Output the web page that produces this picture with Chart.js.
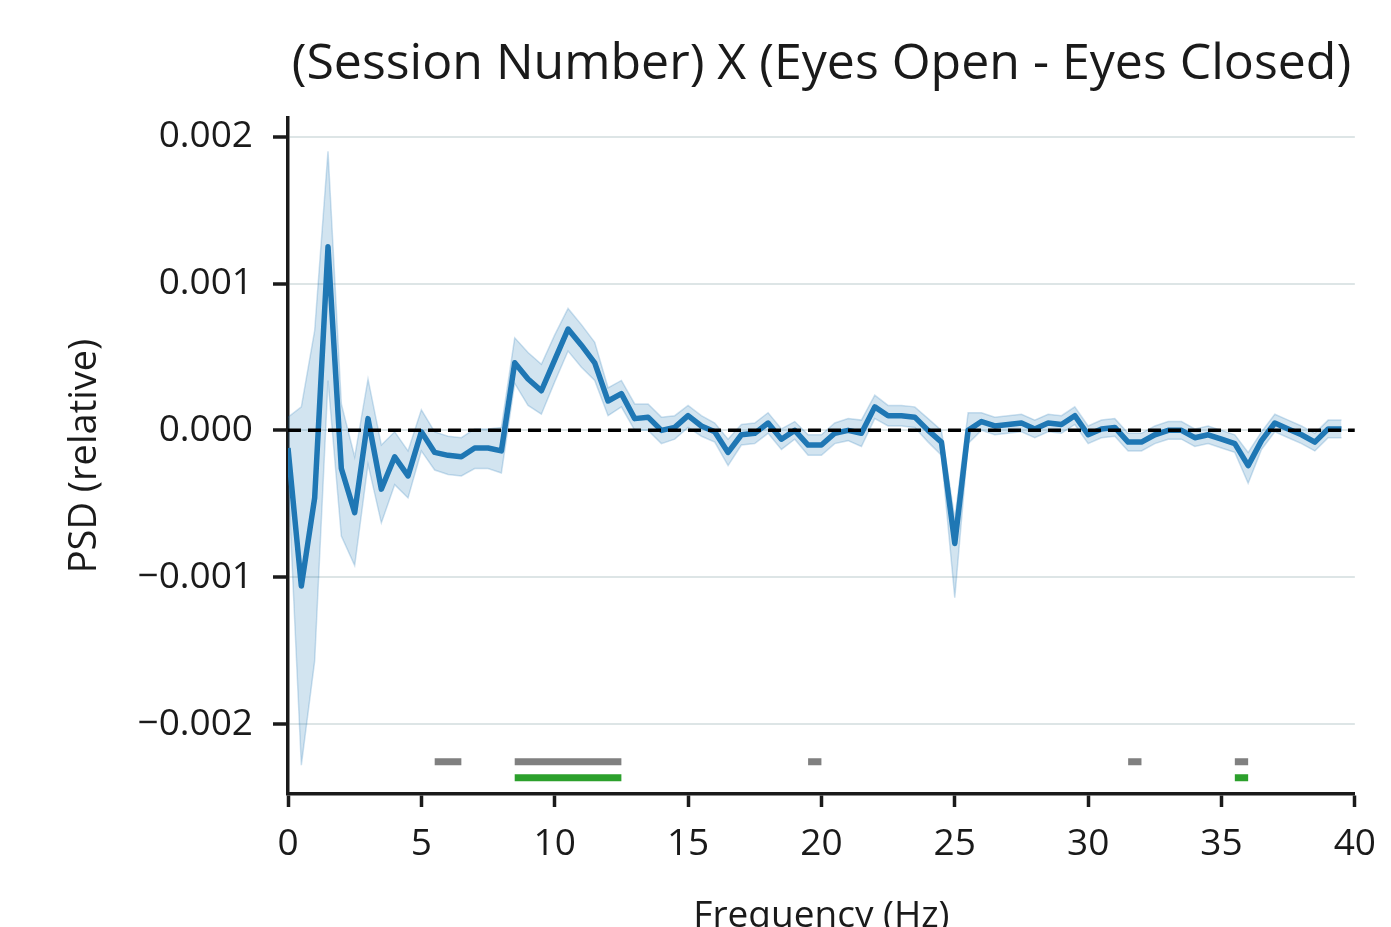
<!DOCTYPE html>
<html>
<head>
<meta charset="utf-8">
<script src="https://cdn.jsdelivr.net/npm/chart.js@4.4.1/dist/chart.umd.min.js"></script>
<style>
  html, body { margin: 0; padding: 0; background: #ffffff; }
  #wrap { width: 1391px; height: 927px; position: relative; }
</style>
</head>
<body>
<div id="wrap"><canvas id="c" width="1391" height="927"></canvas></div>
<script>
// ---- data ----
const freqs = [0,0.5,1,1.5,2,2.5,3,3.5,4,4.5,5,5.5,6,6.5,7,7.5,8,8.5,9,9.5,10,10.5,11,11.5,12,12.5,13,13.5,14,14.5,15,15.5,16,16.5,17,17.5,18,18.5,19,19.5,20,20.5,21,21.5,22,22.5,23,23.5,24,24.5,25,25.5,26,26.5,27,27.5,28,28.5,29,29.5,30,30.5,31,31.5,32,32.5,33,33.5,34,34.5,35,35.5,36,36.5,37,37.5,38,38.5,39,39.5];
const meanPSD = [-0.00012,-0.00106,-0.00046,0.00125,-0.00026,-0.00056,0.00008,-0.00040,-0.00018,-0.00031,
  -0.00001,-0.00015,-0.00017,-0.00018,-0.00012,-0.00012,-0.00014,0.00046,0.00035,0.00027,
  0.00048,0.00069,0.00058,0.00046,0.00020,0.00025,0.00008,0.00009,0.00000,0.00002,
  0.00010,0.00003,-0.00001,-0.00015,-0.00003,-0.00002,0.00005,-0.00006,0.00000,-0.00010,
  -0.00010,-0.00002,0.00000,-0.00002,0.00016,0.00010,0.00010,0.00009,0.00000,-0.00008,
  -0.00077,0.00000,0.00006,0.00003,0.00004,0.00005,0.00001,0.00005,0.00004,0.00010,
  -0.00003,0.00001,0.00002,-0.00008,-0.00008,-0.00003,0.00000,0.00000,-0.00005,-0.00003,
  -0.00006,-0.00009,-0.00024,-0.00007,0.00005,0.00001,-0.00003,-0.00008,0.00001,0.00001];
const upperCI = [0.00009,0.00016,0.00068,0.00190,0.00018,-0.00018,0.00035,-0.00010,-0.00001,-0.00014,
  0.00014,-0.00001,-0.00004,-0.00005,0.00001,0.00001,0.00002,0.00063,0.00053,0.00045,
  0.00065,0.00083,0.00072,0.00060,0.00029,0.00034,0.00018,0.00018,0.00009,0.00010,
  0.00017,0.00010,0.00005,-0.00006,0.00004,0.00005,0.00012,0.00001,0.00006,-0.00003,
  -0.00003,0.00005,0.00008,0.00007,0.00024,0.00017,0.00017,0.00016,0.00008,0.00000,
  -0.00060,0.00012,0.00012,0.00009,0.00010,0.00011,0.00007,0.00011,0.00010,0.00016,
  0.00003,0.00007,0.00008,-0.00002,-0.00002,0.00003,0.00006,0.00006,0.00001,0.00003,
  0.00000,-0.00003,-0.00015,-0.00001,0.00011,0.00007,0.00003,-0.00002,0.00007,0.00007];
const lowerCI = [-0.00030,-0.00228,-0.00157,0.00034,-0.00072,-0.00092,-0.00023,-0.00063,-0.00037,-0.00046,
  -0.00014,-0.00027,-0.00030,-0.00031,-0.00026,-0.00026,-0.00029,0.00032,0.00017,0.00011,
  0.00033,0.00054,0.00043,0.00034,0.00010,0.00016,0.00000,0.00000,-0.00009,-0.00006,
  0.00002,-0.00004,-0.00008,-0.00024,-0.00010,-0.00009,-0.00002,-0.00013,-0.00006,-0.00017,
  -0.00017,-0.00009,-0.00007,-0.00011,0.00008,0.00003,0.00003,0.00002,-0.00008,-0.00017,
  -0.00114,-0.00009,0.00000,-0.00003,-0.00002,-0.00001,-0.00005,-0.00001,-0.00002,0.00004,
  -0.00009,-0.00005,-0.00004,-0.00014,-0.00014,-0.00009,-0.00006,-0.00006,-0.00011,-0.00009,
  -0.00012,-0.00015,-0.00036,-0.00013,-0.00001,-0.00005,-0.00009,-0.00014,-0.00005,-0.00005];
const graySig = [[5.5,6.5],[8.5,12.5],[19.5,20.0],[31.5,32.0],[35.5,36.0]];
const greenSig = [[8.5,12.5],[35.5,36.0]];
const graySigLevel = -0.002256;
const greenSigLevel = -0.002365;
const zeroLine = [[0,0],[40,0]];
const xTicks = [0,5,10,15,20,25,30,35,40];
const yTicks = [-0.002,-0.001,0,0.001,0.002];
const xRange = [0, 40];
const yRange = [-0.002476, 0.002127];
const titleText = '(Session Number) X (Eyes Open - Eyes Closed)';
const xTitle = 'Frequency (Hz)';
const yTitle = 'PSD (relative)';

// ---- helpers ----
function pts(xs, ys) { return xs.map((x, i) => ({x: x, y: ys[i]})); }
function segs(list, level) {
  const out = [];
  list.forEach(s => { out.push({x: s[0], y: level}, {x: s[1], y: level}, {x: s[1], y: null}); });
  return out;
}
function fmtY(v) {
  if (Math.abs(v) < 1e-12) return '0.000';
  const s = Math.abs(v).toFixed(3);
  return (v < 0 ? '\u2212' : '') + s;
}

const FONT = "'Open Sans', 'DejaVu Sans', sans-serif";
Chart.defaults.font.family = FONT;
Chart.defaults.color = '#1a1a1a';

const blue = '#1f77b4';

new Chart(document.getElementById('c'), {
  type: 'line',
  data: {
    datasets: [
      { label: 'zero', data: zeroLine.map(p => ({x: p[0], y: p[1]})), borderColor: '#000', borderWidth: 3.5,
        borderDash: [13, 7], pointRadius: 0, fill: false, order: 0 },
      { label: 'mean', data: pts(freqs, meanPSD), borderColor: blue, borderWidth: 5.5,
        pointRadius: 0, fill: false, tension: 0, order: 1, borderJoinStyle: 'round' },
      { label: 'lower', data: pts(freqs, lowerCI), borderColor: 'rgba(31,119,180,0.22)', borderWidth: 1.5,
        pointRadius: 0, fill: false, tension: 0, order: 2 },
      { label: 'upper', data: pts(freqs, upperCI), borderColor: 'rgba(31,119,180,0.22)', borderWidth: 1.5,
        backgroundColor: 'rgba(31,119,180,0.2)', pointRadius: 0, fill: 2, tension: 0, order: 2 },
      { label: 'gray', data: segs(graySig, graySigLevel), borderColor: '#808080', borderWidth: 7,
        borderCapStyle: 'butt', pointRadius: 0, spanGaps: false, fill: false, order: 3 },
      { label: 'green', data: segs(greenSig, greenSigLevel), borderColor: '#2ca02c', borderWidth: 7,
        borderCapStyle: 'butt', pointRadius: 0, spanGaps: false, fill: false, order: 3 }
    ]
  },
  options: {
    responsive: false,
    animation: false,
    events: [],
    layout: { padding: { left: 0, right: 35, top: 0, bottom: 0 } },
    plugins: {
      legend: { display: false },
      tooltip: { enabled: false },
      title: {
        display: true, text: titleText, color: '#1a1a1a', fullSize: false,
        font: { size: 50, weight: 'normal', lineHeight: 1.2 },
        padding: { top: 35, bottom: 23 }
      }
    },
    scales: {
      x: {
        type: 'linear', min: xRange[0], max: xRange[1],
        afterBuildTicks: s => { s.ticks = xTicks.map(v => ({value: v})); },
        afterFit: s => { s.height = 133; },
        grid: { drawOnChartArea: false, drawTicks: true, tickLength: 13, tickColor: '#1a1a1a', tickWidth: 3.5 },
        border: { display: true, color: '#1a1a1a', width: 3.5 },
        ticks: { font: { size: 37 }, color: '#1a1a1a', padding: 15, maxRotation: 0, callback: v => String(v) },
        title: { display: true, text: xTitle, color: '#1a1a1a', font: { size: 37, lineHeight: 1.0 }, padding: { bottom: -8, top: 0 } }
      },
      y: {
        type: 'linear', min: yRange[0], max: yRange[1],
        afterBuildTicks: s => { s.ticks = yTicks.map(v => ({value: v})); },
        afterFit: s => { s.width = 288; },
        grid: { drawOnChartArea: true, color: '#dde5e6', lineWidth: 2, drawTicks: true, tickLength: 15,
                tickColor: '#1a1a1a', tickWidth: 3.5 },
        border: { display: true, color: '#1a1a1a', width: 3.5 },
        ticks: { font: { size: 37 }, color: '#1a1a1a', padding: 20, callback: v => fmtY(v) },
        title: { display: true, text: yTitle, color: '#1a1a1a', font: { size: 38, lineHeight: 1.0 }, padding: { top: 66, bottom: 0 } }
      }
    }
  }
});
</script>
</body>
</html>
